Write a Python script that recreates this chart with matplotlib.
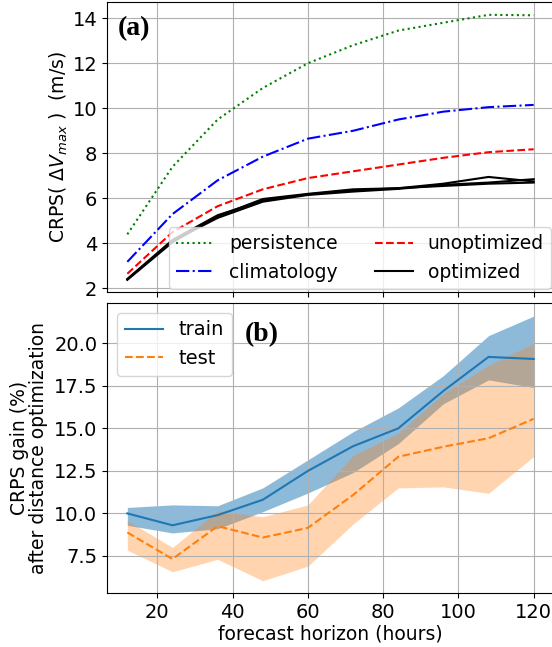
import matplotlib
matplotlib.use('Agg')
import matplotlib.pyplot as plt
import numpy as np

# forecast lead times (hours)
lead = [12, 24, 36, 48, 60, 72, 84, 96, 108, 120]

# panel (a): CRPS of Delta Vmax (m/s)
persistence = [4.4, 7.4, 9.5, 10.9, 12.0, 12.8, 13.45, 13.8, 14.15, 14.13]
climatology = [3.18, 5.3, 6.8, 7.85, 8.65, 9.0, 9.5, 9.85, 10.05, 10.15]
unoptimized = [2.65, 4.5, 5.65, 6.4, 6.9, 7.2, 7.5, 7.8, 8.05, 8.18]
optimized_runs = [
    [2.38, 4.05, 5.2, 5.97, 6.2, 6.4, 6.45, 6.65, 6.95, 6.75],
    [2.40, 4.10, 5.13, 5.85, 6.15, 6.3, 6.42, 6.6, 6.7, 6.85],
    [2.42, 4.15, 5.25, 5.9, 6.18, 6.35, 6.45, 6.55, 6.65, 6.7],
]

# panel (b): CRPS gain (%)
train_mean = [10.0, 9.3, 9.9, 10.8, 12.5, 13.95, 15.0, 17.2, 19.2, 19.08]
train_low = [9.3, 8.85, 9.1, 10.1, 11.2, 12.4, 14.1, 16.45, 17.85, 17.4]
train_high = [10.35, 10.5, 10.45, 11.5, 13.15, 14.8, 16.2, 18.1, 20.45, 21.6]
test_mean = [8.88, 7.32, 9.25, 8.58, 9.15, 11.08, 13.33, 13.92, 14.42, 15.56]
test_low = [7.84, 6.57, 7.3, 6.04, 6.9, 9.37, 11.5, 11.56, 11.18, 13.34]
test_high = [9.58, 8.0, 10.15, 9.8, 10.5, 13.4, 14.7, 17.05, 18.7, 20.0]

W, H = 552, 647
fig = plt.figure(figsize=(W / 100, H / 100), dpi=100)
fs = 13.5
tfs = 14

# ---- panel (a)
ax1 = fig.add_axes([107 / W, 1 - 292 / H, 447 / W, 290 / H])
ax1.plot(lead, persistence, ':', color='green', lw=1.5, label='persistence')
ax1.plot(lead, climatology, '-.', color='blue', lw=1.5, label='climatology')
ax1.plot(lead, unoptimized, '--', color='red', lw=1.5, label='unoptimized')
for k, run in enumerate(optimized_runs):
    ax1.plot(lead, run, '-', color='black', lw=1.5,
             label='optimized' if k == 0 else None)
ax1.set_ylim(1.84, 14.72)
ax1.set_xlim(6.6, 125.4)
ax1.set_yticks([2, 4, 6, 8, 10, 12, 14])
ax1.set_xticks([20, 40, 60, 80, 100, 120])
ax1.set_xticklabels([])
ax1.grid(True)
ax1.tick_params(labelsize=tfs)
ax1.set_ylabel(r'CRPS( $\Delta V_{max}$ )  (m/s)', fontsize=fs, labelpad=2)
ax1.legend(loc='lower right', ncol=2, fontsize=fs, handlelength=2.0,
           borderaxespad=0.15)
ax1.text(0.024, 0.95, '(a)', transform=ax1.transAxes, fontsize=20,
         fontweight='bold', family='Liberation Serif', va='top', ha='left')

# ---- panel (b)
ax2 = fig.add_axes([107 / W, 1 - 593 / H, 447 / W, 290 / H])
ax2.plot(lead, train_mean, '-', color='C0', lw=1.5, label='train')
ax2.fill_between(lead, train_low, train_high, color='C0', alpha=0.5, lw=0)
ax2.plot(lead, test_mean, '--', color='C1', lw=1.5, label='test')
ax2.fill_between(lead, test_low, test_high, color='C1', alpha=0.33, lw=0)
ax2.set_xlim(6.6, 125.4)
ax2.set_ylim(5.32, 22.37)
ax2.set_yticks([7.5, 10.0, 12.5, 15.0, 17.5, 20.0])
ax2.set_xticks([20, 40, 60, 80, 100, 120])
ax2.grid(True)
ax2.tick_params(labelsize=tfs)
ax2.set_ylabel('CRPS gain (%)\nafter distance optimization', fontsize=fs,
               linespacing=1.0)
ax2.set_xlabel('forecast horizon (hours)', fontsize=fs, labelpad=2)
ax2.legend(loc='upper left', fontsize=tfs, handlelength=2.0,
           borderaxespad=0.5)
ax2.text(0.308, 0.935, '(b)', transform=ax2.transAxes, fontsize=20,
         fontweight='bold', family='Liberation Serif', va='top', ha='left')

fig.savefig('out.png', dpi=100)
